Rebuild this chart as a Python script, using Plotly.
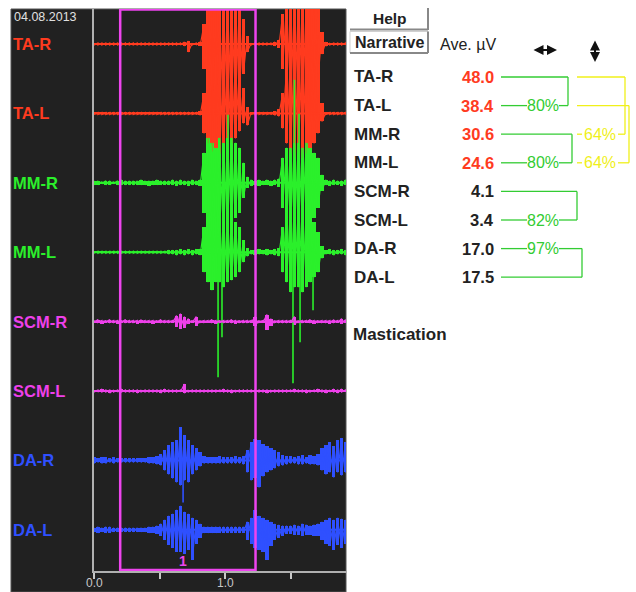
import plotly.graph_objects as go

W, H = 636, 592
FONT = "Liberation Sans, Arial, sans-serif"

# ---------------- data ----------------
DATE = "04.08.2013"
PROTOCOL = "Mastication"
CHANNELS = ["TA-R", "TA-L", "MM-R", "MM-L", "SCM-R", "SCM-L", "DA-R", "DA-L"]
AVE_UV = [48.0, 38.4, 30.6, 24.6, 4.1, 3.4, 17.0, 17.5]
SYMMETRY_PCT = [80, 80, 82, 97]      # TA, MM, SCM, DA (right vs left)
TORQUE_PCT = [64, 64]                # TA-R/MM-R, TA-L/MM-L
WINDOW = [0.2, 1.233]                # analysis window, s
WINDOW_LABEL = "1"
X_TICKS = [0.0, 0.5, 1.0, 1.5]
X_TICK_TEXT = ["0.0", "", "1.0", ""]
BIN_S = 0.03
TIME = [round(BIN_S * k, 2) for k in range(65)]

# envelope excursions above / below each baseline (display units)
TA_R_UP = [1,1,1,1,1,1,1,1,1,1, 1,1,1,1,1,1,1,1,1,1, 1,1,1,2,3,1,1,2,
           20,40,40,38,40,40,40,40,38,40,25,8, 1,1,1,1,1,1,2,4,
           30,40,40,40,40,40,40,40,40,35,12, 2,1,1,1,1,1]
TA_R_DN = [1,1,1,1,1,1,1,1,1,1, 1,1,1,1,1,1,1,1,1,1, 1,1,1,2,8,1,1,2,
           25,50,60,55,70,60,65,55,60,50,30,8, 1,1,1,1,1,1,2,4,
           25,45,60,70,65,70,60,55,50,35,10, 2,1,1,1,1,1]
TA_L_UP = [1,1,1,1,1,1,1,1,1,1, 1,1,1,1,1,1,1,1,1,1, 1,1,1,1,1,1,1,2,
           20,45,55,60,65,60,60,55,50,45,25,6, 1,1,1,1,1,1,2,4,
           20,45,55,65,60,65,60,55,50,40,10, 1,1,1,1,1,1]
TA_L_DN = [1,1,1,1,1,1,1,1,1,1, 1,1,1,1,1,1,1,1,1,1, 1,1,1,1,1,1,1,2,
           20,30,38,35,40,30,35,30,25,18,10,12, 1,1,1,1,1,1,2,3,
           15,30,40,45,40,45,40,35,30,20,8, 1,1,1,1,1,1]
MM_R_UP = [2,2,1,2,2,1,2,3,2,2, 2,2,3,2,2,2,3,2,2,2, 3,2,3,2,2,3,2,3,
           30,45,40,35,45,40,45,45,40,35,20,6, 3,2,3,2,3,2,3,4,
           25,35,35,40,40,35,40,35,30,25,8, 3,2,3,2,2,3]
MM_R_DN = [2,2,1,2,2,1,2,2,2,2, 2,2,2,2,3,2,2,2,2,2, 2,3,2,2,3,2,2,3,
           30,40,45,40,45,45,40,40,35,30,15,5, 3,2,3,2,2,3,2,4,
           25,40,45,50,45,45,40,40,35,25,8, 2,3,2,2,3,2]
MM_L_UP = [1,1,1,1,1,1,1,1,1,1, 1,1,1,1,1,1,1,1,1,2, 2,2,3,2,3,2,3,3,
           25,40,45,40,45,40,40,35,30,25,12,4, 2,2,3,2,3,2,3,4,
           25,40,45,50,45,45,40,35,30,20,6, 2,3,2,2,3,2]
MM_L_DN = [1,1,1,1,1,1,1,1,1,1, 1,1,1,1,1,1,1,1,1,2, 2,3,2,3,2,3,2,3,
           20,30,38,30,30,35,30,28,25,20,10,4, 2,3,2,2,3,2,3,4,
           20,30,40,35,35,40,35,30,25,20,6, 2,2,3,2,2,3]
SCM_R_UP = [1,2,1,1,2,1,1,1,2,1, 1,1,2,1,1,1,1,2,1,1, 1,6,8,5,3,1,5,1,
            1,1,2,1,1,1,1,2,1,1,1,1, 1,5,1,1,7,3,1,1,
            1,1,1,5,1,1,1,2,1,1,1, 1,1,2,1,3,2]
SCM_R_DN = [1,1,2,1,1,1,2,1,1,1, 1,2,1,1,1,2,1,1,1,1, 1,5,7,6,2,1,4,1,
            1,1,1,2,1,1,1,1,2,1,1,1, 1,4,1,1,8,4,1,1,
            1,1,1,3,1,1,1,1,2,1,1, 1,2,1,1,2,1]
SCM_L_UP = [1,1,2,1,1,1,1,2,1,1, 1,1,1,1,1,1,1,1,2,1, 1,1,1,7,1,1,1,1,
            1,1,1,1,1,2,1,1,1,1,1,1, 1,1,1,1,1,1,1,1,
            1,1,1,2,1,1,1,1,1,2,1, 1,1,2,1,2,1]
SCM_L_DN = [1,1,1,1,2,1,1,1,1,1, 1,2,1,1,1,1,1,2,1,1, 1,1,1,2,1,1,1,1,
            1,1,1,1,1,1,1,2,1,1,1,1, 1,1,1,1,2,1,1,1,
            1,1,1,1,1,1,2,1,1,1,1, 2,1,1,2,1,1]
DA_R_UP = [3,2,3,3,2,3,2,2,2,2,2,2,2,2,3,3,4,
           6,10,15,18,20,33,25,20,15,12,8,4,
           3,3,3,4,3,3,3,4,3,4,
           10,18,21,20,16,14,12,10,8,5,4,
           4,3,4,5,3,5,4,6,
           12,15,18,14,20,22,18]
DA_R_DN = [3,2,3,3,2,3,2,2,2,2,2,2,2,2,3,3,4,
           5,10,14,18,22,25,20,22,14,10,6,3,
           3,3,3,3,3,3,3,3,3,4,
           12,20,18,27,16,12,10,8,6,5,4,
           3,3,4,4,3,4,4,5,
           10,14,12,17,12,15,12]
DA_L_UP = [2,3,2,3,3,2,2,2,2,2,2,2,2,2,3,3,4,
           6,10,14,16,20,24,18,16,12,10,6,3,
           3,3,3,3,3,3,3,3,3,3,
           8,12,20,14,12,10,8,6,5,4,4,
           4,5,4,6,5,4,5,6,
           8,10,12,10,12,11,10]
DA_L_DN = [2,3,2,3,3,2,2,2,2,2,2,2,2,2,3,3,4,
           6,10,15,18,22,22,24,20,30,14,8,3,
           3,3,3,3,3,3,3,3,3,3,
           10,14,18,20,22,30,16,10,8,6,4,
           4,5,5,6,5,5,6,6,
           10,14,16,20,15,18,14]

# isolated sharp spikes: time (s) and signed amplitude
MM_R_SPIKE_T = [1.023, 1.530, 1.565]
MM_R_SPIKE_A = [68, 103, 69]
MM_L_SPIKE_T = [0.947, 0.977, 1.519, 1.573, 1.672]
MM_L_SPIKE_A = [-125, -85, -131, -90, -58]
DA_R_SPIKE_T = [0.68]
DA_R_SPIKE_A = [-42]

UP = [TA_R_UP, TA_L_UP, MM_R_UP, MM_L_UP, SCM_R_UP, SCM_L_UP, DA_R_UP, DA_L_UP]
DN = [TA_R_DN, TA_L_DN, MM_R_DN, MM_L_DN, SCM_R_DN, SCM_L_DN, DA_R_DN, DA_L_DN]
SPIKES = {2: (MM_R_SPIKE_T, MM_R_SPIKE_A), 3: (MM_L_SPIKE_T, MM_L_SPIKE_A),
          6: (DA_R_SPIKE_T, DA_R_SPIKE_A)}

# ---------------- styling ----------------
RED, GREEN, MAG, BLUE = "#ff3b1f", "#2bf02b", "#ee40ea", "#2f50ff"
CH_COL = [RED, RED, GREEN, GREEN, MAG, MAG, BLUE, BLUE]
BG = "#212121"
PCT_GREEN = "#33cc33"
PCT_YEL = "#f0f01a"
DARK = "#222222"

def px(x): return x / W
def py(y): return 1 - y / H

PLOT_TOP, PLOT_BOT, PLOT_L, PLOT_R = 9, 571, 94, 346
PX_PER_S = 131.0
X_MAX = (PLOT_R - PLOT_L) / PX_PER_S

def base_px(i): return 44 + 69.4 * i

fig = go.Figure()

for i, ch in enumerate(CHANNELS):
    b = -base_px(i)
    col = CH_COL[i]
    fig.add_trace(go.Scatter(x=[0, X_MAX], y=[b, b], mode="lines",
                             line=dict(color=col, width=2), hoverinfo="skip"))
    # vertical streaks of the envelope
    fig.add_trace(go.Bar(x=TIME, y=[u + d for u, d in zip(UP[i], DN[i])],
                         base=[b - d for d in DN[i]], width=BIN_S * 0.85,
                         marker=dict(color=col, line=dict(width=0)), hoverinfo="skip"))
    # oscillating trace: peak -> trough at each sample
    zx, zy = [], []
    for t, u, d in zip(TIME, UP[i], DN[i]):
        zx += [t, t]
        zy += [b + u, b - d]
    fig.add_trace(go.Scatter(x=zx, y=zy, mode="lines",
                             line=dict(color=col, width=1.2), hoverinfo="skip"))
    if i in SPIKES:
        ts, amps = SPIKES[i]
        sx, sy = [], []
        for t, a in zip(ts, amps):
            sx += [t, t, None]
            sy += [b, b + a, None]
        fig.add_trace(go.Scatter(x=sx, y=sy, mode="lines",
                                 line=dict(color=col, width=1.6), hoverinfo="skip"))

shapes = []
ann = []

def text(x, y, s, size, color, xanchor="center", xref="paper", yref="paper"):
    ann.append(dict(x=x, y=y, xref=xref, yref=yref, text=s, showarrow=False,
                    xanchor=xanchor, yanchor="middle",
                    font=dict(family=FONT, size=size, color=color)))

# dark panel
shapes.append(dict(type="rect", xref="paper", yref="paper", x0=px(11), x1=px(PLOT_R),
                   y0=0, y1=py(PLOT_TOP), fillcolor=BG, line=dict(color="#555555", width=1),
                   layer="below"))
# analysis window
shapes.append(dict(type="rect", xref="x", yref="y", x0=WINDOW[0], x1=WINDOW[1],
                   y0=-570, y1=-9.5, line=dict(color="#ee44ee", width=2.5), layer="above"))
text(0.68, -561, "<b>%s</b>" % WINDOW_LABEL, 14, "#ee44ee", xref="x", yref="y")

# x tick labels
for v, s in zip(X_TICKS, X_TICK_TEXT):
    if s:
        text(v, py(583), s, 12, "#c8c8c8", xref="x")

# date + channel labels
text(px(12), py(17), DATE, 12.5, "#e0e0e0", xanchor="left")
for i, ch in enumerate(CHANNELS):
    text(px(11), py(base_px(i)), "<b>%s</b>" % ch, 16.5, CH_COL[i], xanchor="left")

# buttons
shapes.append(dict(type="line", xref="paper", yref="paper", x0=px(350), x1=px(428),
                   y0=py(29.5), y1=py(29.5), line=dict(color="#888888", width=2)))
shapes.append(dict(type="line", xref="paper", yref="paper", x0=px(428), x1=px(428),
                   y0=py(8), y1=py(30), line=dict(color="#888888", width=2)))
shapes.append(dict(type="rect", xref="paper", yref="paper", x0=px(350), x1=px(428),
                   y0=py(53), y1=py(31.5), line=dict(color="#d0d0d0", width=1)))
shapes.append(dict(type="line", xref="paper", yref="paper", x0=px(350), x1=px(428),
                   y0=py(53), y1=py(53), line=dict(color="#888888", width=2)))
shapes.append(dict(type="line", xref="paper", yref="paper", x0=px(428), x1=px(428),
                   y0=py(31.5), y1=py(53), line=dict(color="#888888", width=2)))
text(px(390), py(18.5), "<b>Help</b>", 15.5, DARK)
text(px(389.5), py(43), "<b>Narrative</b>", 16, DARK)
text(px(438), py(45), "Ave. µV", 16, DARK, xanchor="left")
# arrows
ann.append(dict(x=px(557), y=py(50), xref="paper", yref="paper", ax=-25, ay=0, text="",
                showarrow=True, arrowside="end+start", arrowhead=2, arrowsize=1,
                arrowwidth=2, arrowcolor="#111111", standoff=0, startstandoff=0))
ann.append(dict(x=px(595), y=py(62), xref="paper", yref="paper", ax=0, ay=-23, text="",
                showarrow=True, arrowside="end+start", arrowhead=2, arrowsize=1,
                arrowwidth=2, arrowcolor="#111111", standoff=0, startstandoff=0))

# table
def row_y(i): return 77 + 28.6 * i
for i, ch in enumerate(CHANNELS):
    y = py(row_y(i))
    text(px(352), y, "<b>%s</b>" % ch, 17, DARK, xanchor="left")
    text(px(496), y, "<b>%.1f</b>" % AVE_UV[i], 16.5, RED if i < 4 else DARK, xanchor="right")

def hline(x0, x1, yp, col):
    shapes.append(dict(type="line", xref="paper", yref="paper", x0=px(x0), x1=px(x1),
                       y0=py(yp), y1=py(yp), line=dict(color=col, width=1.3)))
def vline(xp, y0, y1, col):
    shapes.append(dict(type="line", xref="paper", yref="paper", x0=px(xp), x1=px(xp),
                       y0=py(y0), y1=py(y1), line=dict(color=col, width=1.3)))

# symmetry brackets (green)
pairs = [(0, 1, 568, 1), (2, 3, 572, 3), (4, 5, 577, 5), (6, 7, 582, 6)]
for k, (a, b, vx, lab) in enumerate(pairs):
    for r in (a, b):
        if r == lab:
            hline(501, 527, row_y(r), PCT_GREEN)
            hline(559, vx, row_y(r), PCT_GREEN)
            text(px(543), py(row_y(r)), "%d%%" % SYMMETRY_PCT[k], 16, PCT_GREEN)
        else:
            hline(501, vx, row_y(r), PCT_GREEN)
    vline(vx, row_y(a), row_y(b), PCT_GREEN)

# torque brackets (yellow)
ypairs = [(0, 2, 625), (1, 3, 629)]
for k, (a, b, vx) in enumerate(ypairs):
    hline(577, vx, row_y(a), PCT_YEL)
    hline(577, 582, row_y(b), PCT_YEL)
    hline(618, vx, row_y(b), PCT_YEL)
    text(px(600), py(row_y(b)), "%d%%" % TORQUE_PCT[k], 16, PCT_YEL)
    vline(vx, row_y(a), row_y(b), PCT_YEL)

text(px(351), py(334), "<b>%s</b>" % PROTOCOL, 17, DARK, xanchor="left")

fig.update_layout(
    width=W, height=H, margin=dict(l=0, r=0, t=0, b=0, autoexpand=False),
    paper_bgcolor="white", plot_bgcolor=BG, showlegend=False,
    barmode="overlay", bargap=0,
    shapes=shapes, annotations=ann,
    xaxis=dict(domain=[px(PLOT_L), px(PLOT_R)], range=[0, X_MAX], automargin=False,
               showgrid=False, zeroline=False, showline=True, linecolor="#b0b0b0",
               linewidth=1.5, ticks="outside", ticklen=6, tickwidth=1.5,
               tickcolor="#c8c8c8", tickvals=X_TICKS, showticklabels=False),
    yaxis=dict(domain=[1 - PLOT_BOT / H, 1 - PLOT_TOP / H], range=[-PLOT_BOT, -PLOT_TOP],
               automargin=False,
               showgrid=False, zeroline=False, showline=True, linecolor="#b0b0b0",
               linewidth=1.5, showticklabels=False, ticks=""),
)

fig.write_html("out.html", config={"displayModeBar": False},
               post_script="document.body.style.margin='0';")
